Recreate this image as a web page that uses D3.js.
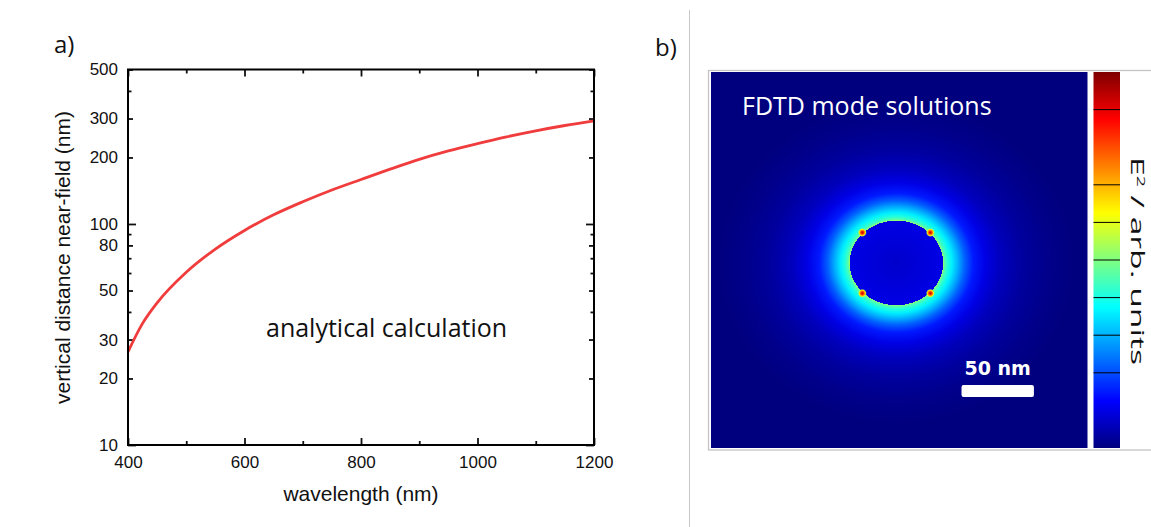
<!DOCTYPE html>
<html>
<head>
<meta charset="utf-8">
<script src="https://cdn.jsdelivr.net/npm/d3@7"></script>
<style>
  body { margin: 0; background: #fff; }
  svg { display: block; }
</style>
</head>
<body>
<script>
// panel a)
var wavelength = [400, 425, 450, 500, 550, 600, 650, 700, 750, 800, 850, 900, 950, 1000, 1050, 1100, 1150, 1200];
var distance = [26.4, 35.5, 44, 60.5, 77, 93.5, 110, 126, 142.5, 159, 177, 196, 214, 231, 248, 264, 279, 293];

var xTickLabels = [400, 600, 800, 1000, 1200];
var xMinorTicks = [500, 700, 900, 1100];
var yTickLabels = [10, 20, 30, 50, 80, 100, 200, 300, 500];
var yMinorTicks = [40, 60, 70, 90, 400];

// panel b) - jet colour map and field profile (nm outside particle edge -> level)
var jetStops = [0, 0.125, 0.375, 0.625, 0.875, 1];
var jetColors = ["#00007f", "#0000ff", "#00ffff", "#ffff00", "#ff0000", "#7f0000"];
var ringDist = [0, 1, 3, 6, 10, 15, 21, 29, 40, 55, 72, 90];
var ringLevel = [0.52, 0.46, 0.41, 0.36, 0.3, 0.22, 0.15, 0.1, 0.06, 0.03, 0.012, 0];
var coreLevel = [0.075, 0.1]; // centre, edge of particle
var hotDist = [0, 0.35, 0.7, 1];
var hotLevel = [0.95, 0.82, 0.64, 0.5];
var hotSpots = [[-23.5, 21], [23.5, 21], [-23.5, -21], [23.5, -21]]; // nm from particle centre
var colorbarTicks = [0.2, 0.3, 0.4, 0.5, 0.6, 0.7, 0.9];

var W = 1151, H = 527;
var svg = d3.select("body").append("svg").attr("width", W).attr("height", H);
var defs = svg.append("defs");

// ---------------- panel a ----------------
var x = d3.scaleLinear().domain([400, 1200]).range([128, 594]);
var y = d3.scaleLog().domain([10, 500]).range([445, 69.5]);
var fmt = d3.format("d");
var axisFont = "'Liberation Sans', Arial, sans-serif";

function styleAxis(g) {
  g.select(".domain").remove();
  g.attr("font-family", axisFont).attr("font-size", 17).attr("color", "#111");
  g.selectAll(".tick line").attr("stroke-width", 1.8);
}

function isDecade(d) { return d === 10 || d === 100; }

svg.append("g").attr("transform", "translate(0,445)")
  .call(d3.axisBottom(x).tickValues(xTickLabels).tickSize(-7).tickPadding(11).tickFormat(fmt))
  .call(styleAxis);
svg.append("g").attr("transform", "translate(0,445)")
  .call(d3.axisBottom(x).tickValues(xMinorTicks).tickSize(-4).tickFormat(""))
  .call(styleAxis);
svg.append("g").attr("transform", "translate(0,69.5)")
  .call(d3.axisTop(x).tickValues(xTickLabels).tickSize(-7).tickFormat(""))
  .call(styleAxis);
svg.append("g").attr("transform", "translate(0,69.5)")
  .call(d3.axisTop(x).tickValues(xMinorTicks).tickSize(-4).tickFormat(""))
  .call(styleAxis);

svg.append("g").attr("transform", "translate(128,0)")
  .call(d3.axisLeft(y).tickValues(yTickLabels).tickSize(-5).tickPadding(10).tickFormat(fmt))
  .call(styleAxis)
  .selectAll(".tick line").attr("x2", function(d) { return isDecade(d) ? 8 : 5; });
svg.append("g").attr("transform", "translate(128,0)")
  .call(d3.axisLeft(y).tickValues(yMinorTicks).tickSize(-3.5).tickFormat(""))
  .call(styleAxis);
svg.append("g").attr("transform", "translate(594,0)")
  .call(d3.axisRight(y).tickValues(yTickLabels).tickSize(-5).tickFormat(""))
  .call(styleAxis)
  .selectAll(".tick line").attr("x2", function(d) { return isDecade(d) ? -8 : -5; });
svg.append("g").attr("transform", "translate(594,0)")
  .call(d3.axisRight(y).tickValues(yMinorTicks).tickSize(-3.5).tickFormat(""))
  .call(styleAxis);

var line = d3.line()
  .x(function(d, i) { return x(wavelength[i]); })
  .y(function(d) { return y(d); })
  .curve(d3.curveMonotoneX);

svg.append("path")
  .datum(distance)
  .attr("d", line)
  .attr("fill", "none")
  .attr("stroke", "#f03c3c")
  .attr("stroke-width", 2.8);

svg.append("rect")
  .attr("x", 128).attr("y", 69.5)
  .attr("width", 594 - 128).attr("height", 445 - 69.5)
  .attr("fill", "none").attr("stroke", "#000").attr("stroke-width", 2);

svg.append("text")
  .attr("x", 361).attr("y", 501)
  .attr("text-anchor", "middle")
  .attr("font-family", axisFont).attr("font-size", 21).attr("fill", "#111")
  .text("wavelength (nm)");

svg.append("text")
  .attr("transform", "translate(70,257.5) rotate(-90)")
  .attr("text-anchor", "middle")
  .attr("font-family", axisFont).attr("font-size", 21).attr("fill", "#111")
  .text("vertical distance near-field (nm)");

svg.append("text")
  .attr("x", 266).attr("y", 337)
  .attr("font-family", "'Open Sans', sans-serif").attr("font-size", 25).attr("fill", "#111")
  .text("analytical calculation");

svg.append("text")
  .attr("x", 54).attr("y", 53)
  .attr("font-family", "'Open Sans', sans-serif").attr("font-size", 24).attr("fill", "#111")
  .text("a)");

// ---------------- panel b ----------------
svg.append("text")
  .attr("x", 655).attr("y", 56)
  .attr("font-family", "'Open Sans', sans-serif").attr("font-size", 24).attr("fill", "#111")
  .text("b)");

svg.append("line")
  .attr("x1", 689.5).attr("x2", 689.5).attr("y1", 10).attr("y2", H)
  .attr("stroke", "#c8c8c8").attr("stroke-width", 1);

svg.append("rect")
  .attr("x", 708.5).attr("y", 70.5).attr("width", 480).attr("height", 379.5)
  .attr("fill", "#fff").attr("stroke", "#c4c4c4").attr("stroke-width", 1.3);

var jet = d3.scaleLinear().domain(jetStops).range(jetColors);

// field coordinates in nm
var fx = d3.scaleLinear().domain([-130, 130]).range([711, 1087.5]);
var fy = d3.scaleLinear().domain([130, -130]).range([72, 448]);
var pxPerNm = fx(1) - fx(0);
var particle = { cx: -2, cy: -2, rx: 32.3, ry: 29.2 };

var pcx = fx(particle.cx), pcy = fy(particle.cy);
var prx = particle.rx * pxPerNm, pry = particle.ry * pxPerNm;
var outerR = prx + ringDist[ringDist.length - 1] * pxPerNm;

var field = defs.append("radialGradient")
  .attr("id", "field")
  .attr("gradientUnits", "userSpaceOnUse")
  .attr("cx", pcx).attr("cy", pcy).attr("fx", pcx).attr("fy", pcy).attr("r", outerR)
  .attr("gradientTransform", "translate(" + pcx + "," + pcy + ") scale(1," + (pry / prx) + ") translate(" + (-pcx) + "," + (-pcy) + ")");

var fieldStops = [{ o: 0, v: coreLevel[0] }, { o: prx / outerR, v: coreLevel[1] }];
ringDist.forEach(function(d, i) {
  fieldStops.push({ o: (prx + d * pxPerNm) / outerR, v: ringLevel[i] });
});
field.selectAll("stop").data(fieldStops).enter().append("stop")
  .attr("offset", function(d) { return d.o; })
  .attr("stop-color", function(d) { return jet(d.v); });

svg.append("rect")
  .attr("x", fx(-130)).attr("y", fy(130))
  .attr("width", fx(130) - fx(-130)).attr("height", fy(-130) - fy(130))
  .attr("fill", "url(#field)");

var hot = defs.append("radialGradient").attr("id", "hot");
hot.selectAll("stop").data(hotDist).enter().append("stop")
  .attr("offset", function(d) { return d; })
  .attr("stop-color", function(d, i) { return jet(hotLevel[i]); })
  .attr("stop-opacity", function(d, i) { return i === hotDist.length - 1 ? 0 : 1; });

svg.selectAll(".hot").data(hotSpots).enter().append("circle")
  .attr("class", "hot")
  .attr("cx", function(d) { return fx(particle.cx + d[0]); })
  .attr("cy", function(d) { return fy(particle.cy + d[1]); })
  .attr("r", 4.5)
  .attr("fill", "url(#hot)");

svg.append("text")
  .attr("x", 742).attr("y", 115)
  .attr("font-family", "'Open Sans', sans-serif").attr("font-size", 25).attr("fill", "#fff")
  .text("FDTD mode solutions");

// scale bar, 50 nm
svg.append("text")
  .attr("x", (fx(43) + fx(93)) / 2).attr("y", 374.5)
  .attr("text-anchor", "middle")
  .attr("font-family", "'DejaVu Sans', sans-serif").attr("font-weight", "bold")
  .attr("font-size", 19).attr("fill", "#fff")
  .text("50 nm");
svg.append("rect")
  .attr("x", fx(43)).attr("y", 385)
  .attr("width", fx(93) - fx(43)).attr("height", 12).attr("rx", 2)
  .attr("fill", "#fff");

// colour bar
var cb = d3.scaleLinear().domain([0, 1]).range([448, 72]);
var cbGrad = defs.append("linearGradient").attr("id", "jetbar")
  .attr("x1", 0).attr("x2", 0).attr("y1", 1).attr("y2", 0);
cbGrad.selectAll("stop").data(jetStops).enter().append("stop")
  .attr("offset", function(d) { return d; })
  .attr("stop-color", function(d, i) { return jetColors[i]; });

svg.append("rect")
  .attr("x", 1093.5).attr("y", cb(1))
  .attr("width", 26.5).attr("height", cb(0) - cb(1))
  .attr("fill", "url(#jetbar)");

svg.selectAll(".cbtick").data(colorbarTicks).enter().append("line")
  .attr("class", "cbtick")
  .attr("x1", 1093.5).attr("x2", 1120)
  .attr("y1", function(d) { return cb(d); }).attr("y2", function(d) { return cb(d); })
  .attr("stroke", "#000").attr("stroke-width", 1);

var cbLabel = svg.append("text")
  .attr("transform", "translate(1131,157) rotate(90)")
  .attr("font-family", "'Open Sans', sans-serif").attr("font-size", 19).attr("fill", "#111")
  .attr("textLength", 208).attr("lengthAdjust", "spacingAndGlyphs");
cbLabel.append("tspan").text("E");
cbLabel.append("tspan").attr("font-size", 11).attr("dy", -6).text("2");
cbLabel.append("tspan").attr("dy", 6).text(" / arb. units");
</script>
</body>
</html>
